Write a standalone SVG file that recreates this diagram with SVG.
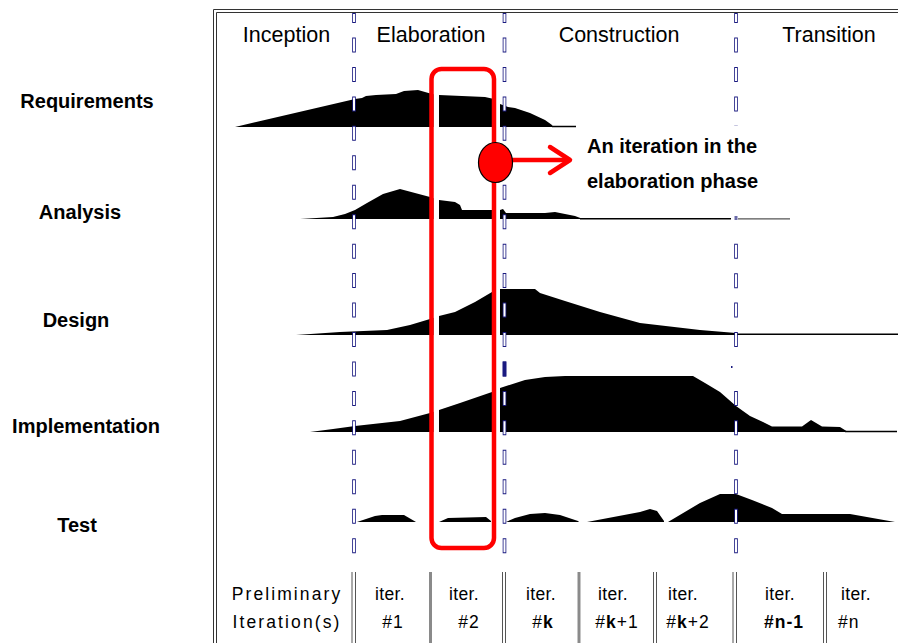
<svg xmlns="http://www.w3.org/2000/svg" xmlns:xlink="http://www.w3.org/1999/xlink" width="898" height="643" viewBox="0 0 898 643">
<style>
text{font-family:"Liberation Sans",Arial,sans-serif;fill:#000}
.ph{font-size:21.5px;text-anchor:middle}
.lb{font-size:20px;font-weight:bold;text-anchor:middle}
.an{font-size:20px;font-weight:bold}
.it{font-size:17.5px;text-anchor:middle;letter-spacing:0.4px}
.nm{font-size:17.5px;text-anchor:middle;letter-spacing:1px}
.pre{font-size:17.5px;text-anchor:middle;letter-spacing:2.1px}
.b{font-weight:bold}
.hump{fill:#000}
.tail{stroke:#000;stroke-width:1.5;fill:none}
.frame{stroke:#333;stroke-width:1;fill:none}
.sep{stroke:#555;stroke-width:1}
.sepT{stroke:#8a8a8a;stroke-width:3}
.dn{stroke:#1a1a80;stroke-width:3.6;stroke-dasharray:15 14.45;fill:none}
.dw{stroke:#fff;stroke-width:2;stroke-dasharray:13 16.45;fill:none}
</style>
<rect width="898" height="643" fill="#fff"/>

<g id="frame">
<path class="frame" d="M213.5,643 V9.5 H898"/>
<path class="frame" d="M216.5,643 V12.5 H898"/>
</g>

<g id="phases">
<text class="ph" x="286.5" y="42">Inception</text>
<text class="ph" x="431" y="42">Elaboration</text>
<text class="ph" x="619" y="42">Construction</text>
<text class="ph" x="829" y="42">Transition</text>
</g>

<g id="disciplines">
<text class="lb" x="87" y="108">Requirements</text>
<text class="lb" x="80" y="219">Analysis</text>
<text class="lb" x="76" y="327">Design</text>
<text class="lb" x="86" y="433">Implementation</text>
<text class="lb" x="77" y="532">Test</text>
</g>

<g id="humps">
<path id="h-req" class="hump" d="M235,127 L355,99 L362,98 L366,96 L376,95 L396,94 L404,91 L418,90 L425,92 L432,94 L439,95 L485,97 L494,99 L500,104 L508,107 L515,108 L530,113 L545,120 L552,125 L553,127 Z"/>
<path class="tail" d="M552,126.5 H576"/>
<path id="h-ana" class="hump" d="M300,219 L333,217 L345,214 L355,210 L367,203 L383,194 L400,189 L430,197 L439,200 L455,202 L460,205 L462,210 L500,210 L503,209 L506,213 L545,213 L555,212 L565,214 L575,216 L583,219 Z"/>
<path class="tail" d="M580,218.8 H731"/>
<path d="M738,218.8 H790" stroke="#555" stroke-width="1.2"/>
<path id="h-des" class="hump" d="M296,335 L340,332 L387,330 L410,325 L430,319 L439,316 L455,312 L475,302 L492,292 L500,289 L535,289 L540,293 L565,301 L600,312 L640,323 L700,330 L736,333 L736,335 Z"/>
<path class="tail" d="M730,334.3 H898"/>
<path id="h-imp" class="hump" d="M310,432 L333,429 L355,426 L400,421 L430,413 L439,410 L460,403 L492,392 L500,388 L525,380 L545,377 L565,376 L693,376 L705,383 L720,392 L736,406 L750,416 L763,422 L772,426.5 L802,426.5 L811,420 L822,426.5 L840,427 L848,432 Z"/>
<path class="tail" d="M845,431.5 H897"/>
<g id="h-test" class="hump">
<path d="M357,522 L375,516 L382,515 L404,515 L416,522 Z"/>
<path d="M439,522 L448,518 L486,517 L491,521 L491,522 Z"/>
<path d="M506,522 L515,518 L530,514 L545,513 L560,515 L578,521 L579,522 Z"/>
<path d="M587,522 L640,512 L650,509 L657,511 L664,521 L664,522 Z"/>
<path d="M668,522 L700,503 L720,494 L736,494 L752,500 L772,508 L782,514 L850,514 L895,522 Z"/>
</g>
<rect x="433.5" y="60" width="5.5" height="480" fill="#fff"/>
<rect x="496" y="60" width="4" height="480" fill="#fff"/>
</g>

<g id="phase-dividers">
<path class="dn" d="M354,13 V23 M504.5,13 V23 M736,13 V23" stroke-dasharray="none"/>
<path class="dw" d="M354,14 V22 M504.5,14 V22 M736,14 V22" stroke-dasharray="none"/>
<path class="dn" d="M354,37.5 V553.5 M504.5,37.5 V553.5 M736,37.5 V126 M736,243.7 V347.5 M736,390.9 V553.5"/>
<path class="dw" d="M354,38.5 V553.5 M504.5,38.5 V553.5 M736,38.5 V126 M736,244.7 V347.5 M736,391.9 V553.5"/>
<rect x="502.7" y="361.5" width="3.6" height="15" fill="#1a1a80"/>
<rect x="734.5" y="216" width="3" height="4" fill="#6a6aa8"/>
<rect x="731" y="366" width="1.5" height="2" fill="#1a1a80"/>
</g>

<g id="iteration-marker">
<rect x="431.5" y="69" width="62.5" height="479" rx="10" fill="none" stroke="#ff0000" stroke-width="4.5"/>
</g>

<g id="connectors">
<path d="M512,160 H568" stroke="#ff0000" stroke-width="4.5" fill="none"/>
<path d="M550,147 L570,160 L550,173" stroke="#ff0000" stroke-width="4.5" fill="none" stroke-linecap="round" stroke-linejoin="round"/>
</g>

<g id="callout">
<ellipse cx="495.5" cy="162.5" rx="17" ry="20" fill="#ff0000" stroke="#000" stroke-width="1.2"/>
<text class="an" x="587" y="153">An iteration in the</text>
<text class="an" x="587" y="188">elaboration phase</text>
</g>

<g id="iterations">
<line class="sep" x1="352" y1="572" x2="352" y2="643"/>
<line class="sep" x1="355.5" y1="572" x2="355.5" y2="643"/>
<line class="sepT" x1="430.5" y1="572" x2="430.5" y2="643"/>
<line class="sep" x1="502.5" y1="572" x2="502.5" y2="643"/>
<line class="sep" x1="505.5" y1="572" x2="505.5" y2="643"/>
<line class="sepT" x1="579" y1="572" x2="579" y2="643"/>
<line class="sep" x1="653.5" y1="572" x2="653.5" y2="643"/>
<line class="sep" x1="656.5" y1="572" x2="656.5" y2="643"/>
<line class="sep" x1="733" y1="572" x2="733" y2="643"/>
<line class="sep" x1="736.5" y1="572" x2="736.5" y2="643"/>
<line class="sep" x1="823.5" y1="572" x2="823.5" y2="643"/>
<line class="sep" x1="826.5" y1="572" x2="826.5" y2="643"/>

<text class="pre" x="287" y="600">Preliminary</text>
<text class="pre" x="287" y="628">Iteration(s)</text>
<text class="it" x="390" y="600">iter.</text>
<text class="nm" x="393" y="628">#1</text>
<text class="it" x="464" y="600">iter.</text>
<text class="nm" x="469" y="628">#2</text>
<text class="it" x="541" y="600">iter.</text>
<text class="nm" x="543" y="628">#<tspan class="b">k</tspan></text>
<text class="it" x="613" y="600">iter.</text>
<text class="nm" x="617" y="628">#<tspan class="b">k</tspan>+1</text>
<text class="it" x="683" y="600">iter.</text>
<text class="nm" x="688" y="628">#<tspan class="b">k</tspan>+2</text>
<text class="it" x="780" y="600">iter.</text>
<text class="nm" x="784" y="628"><tspan class="b">#n-1</tspan></text>
<text class="it" x="856" y="600">iter.</text>
<text x="838" y="628" style="font-size:17.5px;letter-spacing:1px">#n</text>
</g>
</svg>
